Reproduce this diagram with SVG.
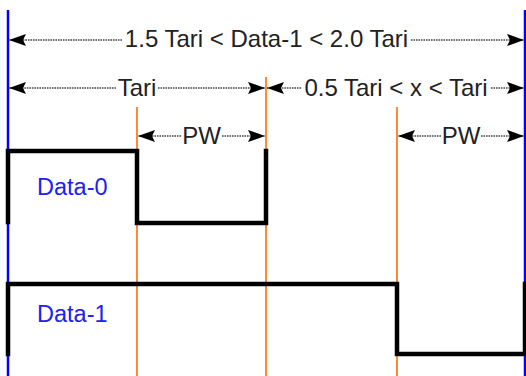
<svg xmlns="http://www.w3.org/2000/svg" width="526" height="376" viewBox="0 0 526 376">
<style>
.dim{stroke:#444;stroke-width:1.3;stroke-dasharray:1.6 0.9;fill:none}
.lbl{font-family:"Liberation Sans",Arial,sans-serif;font-size:24px;fill:#222;text-anchor:middle}
.dl{font-family:"Liberation Sans",Arial,sans-serif;font-size:23.5px;fill:#2020f0}
.or{stroke:#ff8a33;stroke-width:2}
.bl{stroke:#0000ff;stroke-width:2.5}
.wave{stroke:#000;stroke-width:4.5;fill:none;stroke-linejoin:miter;stroke-linecap:square}
</style>
<defs>
<marker id="ah" markerUnits="userSpaceOnUse" markerWidth="18" markerHeight="14" viewBox="0 0 18 14" refX="17" refY="7" orient="auto-start-reverse">
<path d="M0,1 L17,7 L0,13 L3,7 z" fill="#000"/>
</marker>
</defs>
<rect width="526" height="376" fill="#fff"/>
<g id="guides">
<line class="bl" x1="8" y1="10" x2="8" y2="376"/>
<line class="bl" x1="525" y1="10" x2="525" y2="376"/>
<line class="or" x1="266" y1="77" x2="266" y2="376"/>
<line class="or" x1="137" y1="107" x2="137" y2="376"/>
<line class="or" x1="397" y1="107" x2="397" y2="376"/>
</g>
<g id="connectors">
<line class="dim" x1="122" y1="40" x2="9" y2="40" marker-end="url(#ah)"/>
<line class="dim" x1="411" y1="40" x2="524" y2="40" marker-end="url(#ah)"/>
<line class="dim" x1="116" y1="88" x2="9" y2="88" marker-end="url(#ah)"/>
<line class="dim" x1="158" y1="88" x2="265" y2="88" marker-end="url(#ah)"/>
<line class="dim" x1="301" y1="88" x2="267" y2="88" marker-end="url(#ah)"/>
<line class="dim" x1="491" y1="88" x2="524" y2="88" marker-end="url(#ah)"/>
<line class="dim" x1="181" y1="136" x2="138" y2="136" marker-end="url(#ah)"/>
<line class="dim" x1="222" y1="136" x2="265" y2="136" marker-end="url(#ah)"/>
<line class="dim" x1="441" y1="136" x2="398" y2="136" marker-end="url(#ah)"/>
<line class="dim" x1="481" y1="136" x2="524" y2="136" marker-end="url(#ah)"/>
</g>
<g id="labels">
<text class="lbl" x="266.5" y="46.5">1.5 Tari &lt; Data-1 &lt; 2.0 Tari</text>
<text class="lbl" x="137" y="95.5">Tari</text>
<text class="lbl" x="396" y="95.5">0.5 Tari &lt; x &lt; Tari</text>
<text class="lbl" x="201.5" y="143.5">PW</text>
<text class="lbl" x="461" y="143.5">PW</text>
</g>
<g id="data0">
<path class="wave" d="M8,222 V151 H137 V223 H266 V151"/>
<text class="dl" x="37" y="195">Data-0</text>
</g>
<g id="data1">
<path class="wave" d="M8,354 V284 H397 V354 H525 V284"/>
<text class="dl" x="37" y="322">Data-1</text>
</g>
</svg>
